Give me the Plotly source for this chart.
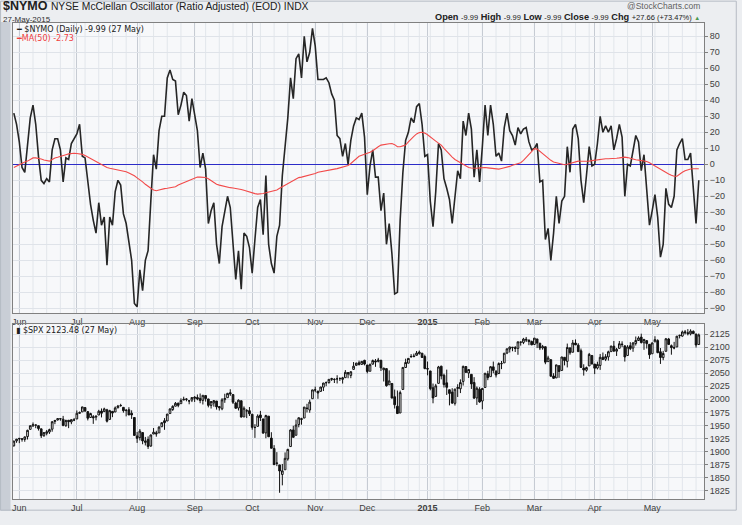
import pandas as pd
import plotly.graph_objects as go

# ---------------- data ----------------
holidays = ["2014-07-04", "2014-09-01", "2014-11-27", "2014-12-25", "2015-01-01",
            "2015-01-19", "2015-02-16", "2015-04-03", "2015-05-25"]
trade_dates = [d for d in pd.bdate_range("2014-05-29", "2015-05-27")
               if d.strftime("%Y-%m-%d") not in holidays]

nymo = [32, 25, 14, -2, -5, 13, 29, 37, 25, 5,
        -10, -12, -9, -11, 9, 16, 16, 9, -11, 4,
        3, 13, 16, 19, 25, 5, 4, -11, -25, -35,
        -43, -24, -38, -33, -63, -33, -38, -17, -10, -13,
        -31, -37, -48, -60, -87, -89, -66, -79, -60, -54,
        -23, 6, -3, 21, 30, 30, 54, 59, 53, 52,
        31, 37, 45, 43, 27, 41, 31, 21, -2, 7,
        -3, -37, -29, -24, -50, -62, -39, -29, -20, -27,
        -52, -72, -54, -78, -43, -45, -52, -68, -47, -27,
        -22, -44, -7, -50, -62, -68, -45, -38, -7, 9,
        29, 54, 41, 66, 69, 54, 80, 64, 70, 85,
        74, 53, 53, 53, 54, 51, 44, 40, 18, 16,
        5, 13, 0, 15, 24, 29, 28, 32, 17, -19,
        -1, 9, -8, -8, -29, -18, -50, -37, -56, -81,
        -80, -35, -5, 15, 20, 29, 26, 36, 38, 25,
        5, 6, -23, -39, -17, 13, 9, -9, -15, -22,
        -37, -20, -4, -9, 27, 18, 32, 22, -8, 9,
        -11, 11, 37, 18, 37, 25, 5, 7, 2, 23,
        32, 21, 18, 12, 23, 19, 22, 23, 14, 9,
        10, 13, -11, -10, -47, -40, -60, -43, -20, -37,
        -23, -20, 11, -5, 22, 25, 16, -10, -24, -7,
        11, -1, 0, 13, 30, 20, 24, 20, 24, 9,
        16, 25, 17, -20, 0, -1, 9, 18, 14, -4,
        6, -18, -38, -29, -19, -33, -58, -50, -15, -25,
        -27, -20, 9, 13, 16, 3, 3, 7, -14, -37,
        -9.99]

ma50 = [-2, -1, 0,
        0.8, 1.5, 2, 3, 4,
        4, 3.8, 3.3, 2.7, 2.3, 2,
        3, 4, 4.4, 4.8, 5.5,
        6, 6.5, 6.8, 6.9, 6.8,
        6.6, 6.2, 5.5, 4.5, 3.8,
        3, 2, 1, 0, -1,
        -2, -2.5, -2.8, -3.1, -3.3,
        -3.6, -4, -4.6, -5.4, -6.2,
        -7.2, -8.5, -9.5, -11, -12.5,
        -14, -15, -16, -16.5, -16,
        -15.5, -15.2, -15, -14.8, -14.6,
        -14, -13, -12.3, -11.5, -10.8,
        -10, -9, -8.5, -8, -8,
        -8, -8.2, -9, -10.3, -11.5,
        -12.5, -13, -13.5, -14, -14.3,
        -14.6, -14.8, -15, -15.2, -15.7,
        -16.2, -16.8, -17.3, -18, -18.3,
        -18.6, -18.5, -18.2, -17.8, -17.4,
        -17, -16.5, -16, -15, -14,
        -13, -12, -11, -9.8, -8.8,
        -8.3, -8, -7.6, -7.2, -6.8,
        -6.3, -5.7, -5, -4.6, -4.3,
        -4, -3.7, -3.4, -3, -2.7,
        -2.3, -1.8, -1.3, -0.7, 0.5,
        2, 3.5, 5, 5.7, 6.2,
        7, 7.6, 8.5, 10, 11,
        12, 12.4, 12.7, 12.8, 13,
        12.3, 11, 11, 11.5, 12,
        14, 16, 17.5, 19, 19.8,
        20, 19.5, 18.5, 17, 15.5,
        14.5, 13.2, 12, 10, 8,
        6.3, 4.5, 3, 2, 0.5,
        -0.5, -1.2, -2, -2.3, -2.6,
        -2.5, -2.2, -2, -2, -2.2,
        -2.4, -2.6, -2.8, -3, -2.6,
        -2.3, -2, -1.3, -0.6, 0,
        0.5, 1, 2.5, 4.5, 6.5,
        8.5, 9.8, 9.5, 8, 7,
        5.5, 4, 2.5, 1.5, 1,
        0.5, 0, -0.3, 0, 0.5,
        1, 1.5, 2, 1.9, 1.8,
        1.7, 2, 2.3, 2.6, 2.9,
        3.1, 3.3, 3.5, 3.5, 3.5,
        3.6, 3.8, 4, 4.3, 4.5,
        4.2, 3.6, 3, 2.8, 2.6,
        2.4, 2.2, 1.8, 1, 0,
        -1.2, -2.5, -3.5, -4.5, -5.2,
        -6, -6.8, -7.5, -7.5, -6,
        -5, -4, -3.3, -2.9, -2.8,
        -2.8, -2.73]

spx_close = [
    1920.0, 1923.6,
    1925.0, 1924.2, 1927.9, 1940.5, 1949.4, 1951.3, 1950.8, 1943.9, 1930.1, 1936.2, 1937.8, 1942.0, 1957.0, 1959.5, 1962.9, 1962.6, 1950.0, 1959.5, 1957.2, 1961.0, 1960.2,
    1973.3, 1974.6, 1985.4, 1977.7, 1963.7, 1972.8, 1964.7, 1967.6, 1977.1, 1973.3, 1981.6, 1958.1, 1978.2, 1973.6, 1983.5, 1987.0, 1988.0, 1978.3, 1978.9, 1970.0, 1970.1, 1930.7,
    1925.2, 1939.0, 1920.2, 1920.2, 1909.6, 1931.6, 1936.9, 1933.8, 1946.7, 1955.2, 1955.1, 1971.7, 1981.6, 1986.5, 1992.4, 1988.4, 1997.9, 2000.0, 2000.1, 1996.7, 2003.4,
    2002.3, 2000.7, 1997.7, 2007.7, 2001.5, 1988.4, 1995.7, 1997.5, 1985.5, 1984.1, 1999.0, 2001.6, 2011.4, 2010.4, 1994.3, 1982.8, 1998.3, 1966.0, 1982.9, 1977.8, 1972.3,
    1946.2, 1946.2, 1967.9, 1964.8, 1935.1, 1968.9, 1928.2, 1906.1, 1874.7, 1877.7, 1862.5, 1862.8, 1886.8, 1904.0, 1941.3, 1927.1, 1950.8, 1964.6, 1961.6, 1985.1, 1982.3, 1994.7, 2018.1,
    2017.8, 2012.1, 2023.6, 2031.2, 2031.9, 2038.3, 2039.7, 2038.3, 2039.3, 2039.8, 2041.3, 2051.8, 2048.7, 2052.8, 2063.5, 2069.4, 2067.0, 2072.8, 2067.6,
    2053.4, 2066.6, 2074.3, 2071.9, 2075.4, 2060.3, 2059.8, 2026.1, 2035.3, 2002.3, 1989.6, 1972.7, 2012.9, 2061.2, 2070.7, 2078.5, 2082.2, 2081.9, 2088.8, 2090.6, 2080.4, 2058.9,
    2058.2, 2020.6, 2002.6, 2025.9, 2062.1, 2044.8, 2028.3, 2023.0, 2011.3, 1992.7, 2019.4, 2022.6, 2032.1, 2063.2, 2051.8, 2057.1, 2029.6, 2002.2, 2021.3, 1995.0,
    2020.9, 2050.0, 2041.5, 2062.5, 2055.5, 2046.7, 2068.6, 2068.5, 2088.5, 2097.0, 2100.3, 2099.7, 2097.5, 2110.3, 2109.7, 2115.5, 2113.9, 2110.7, 2104.5,
    2117.4, 2107.8, 2098.5, 2101.0, 2071.3, 2079.4, 2044.2, 2040.2, 2066.0, 2053.4, 2081.2, 2074.3, 2099.5, 2089.3, 2108.1, 2104.4, 2091.5, 2061.1, 2056.2, 2061.0, 2086.2, 2067.9,
    2059.7, 2067.0, 2080.6, 2076.3, 2081.9, 2091.2, 2102.1, 2092.4, 2095.8, 2106.6, 2105.0, 2081.2, 2100.4, 2097.3, 2108.0, 2112.9, 2117.7, 2108.9, 2114.8, 2106.9, 2085.5,
    2108.3, 2114.5, 2089.5, 2080.2, 2088.0, 2116.1, 2105.3, 2099.1, 2098.5, 2121.1, 2122.7, 2129.2, 2127.8, 2125.9, 2130.8, 2126.1, 2104.2, 2123.48]

spx_open = [
    1910.6, 1920.3,
    1923.9, 1923.1, 1923.1, 1928.5, 1942.4, 1949.0, 1950.3, 1949.4, 1943.4, 1930.8, 1934.8, 1937.2, 1942.7, 1957.5, 1960.5, 1962.9, 1961.9, 1949.3, 1959.9, 1956.6, 1960.8,
    1962.3, 1973.1, 1975.9, 1984.2, 1976.4, 1965.1, 1966.7, 1965.8, 1969.9, 1977.4, 1976.4, 1979.8, 1961.5, 1976.9, 1975.7, 1984.0, 1988.1, 1984.6, 1978.3, 1980.0, 1973.2, 1965.1,
    1929.8, 1926.6, 1936.3, 1917.3, 1923.0, 1910.4, 1933.4, 1935.7, 1935.6, 1947.4, 1958.9, 1958.4, 1972.7, 1980.5, 1986.8, 1992.6, 1991.7, 1998.6, 2000.5, 1997.4, 1998.5,
    2004.1, 2003.6, 2001.7, 1998.0, 2007.2, 2000.7, 1988.4, 1992.9, 1996.7, 1986.0, 1981.9, 1999.3, 2003.1, 2012.7, 2009.1, 1992.8, 1983.3, 1997.3, 1966.2, 1978.0, 1978.2,
    1971.4, 1945.8, 1948.1, 1970.0, 1962.4, 1935.6, 1967.7, 1925.6, 1905.7, 1877.1, 1874.2, 1855.9, 1864.9, 1885.6, 1909.4, 1941.3, 1931.0, 1951.6, 1962.9, 1964.1, 1983.3, 1979.5, 2001.2,
    2018.2, 2015.8, 2015.3, 2023.3, 2032.0, 2032.0, 2038.2, 2037.8, 2039.2, 2039.7, 2038.3, 2041.5, 2051.2, 2045.9, 2057.5, 2065.1, 2070.2, 2067.0, 2074.8,
    2065.8, 2053.8, 2067.5, 2073.6, 2072.8, 2074.8, 2056.6, 2058.9, 2027.9, 2030.4, 2005.0, 1986.7, 1973.8, 2018.9, 2061.0, 2069.3, 2081.5, 2083.3, 2084.3, 2087.6, 2088.5, 2082.1,
    2058.9, 2054.4, 2022.2, 2005.6, 2030.6, 2063.5, 2046.1, 2031.6, 2018.4, 2013.8, 1992.3, 2020.8, 2020.2, 2034.3, 2062.9, 2050.4, 2047.9, 2032.3, 2002.5, 2019.4,
    1996.7, 2022.7, 2048.9, 2043.5, 2062.3, 2053.5, 2049.4, 2068.6, 2069.9, 2088.8, 2096.5, 2099.2, 2099.3, 2097.7, 2109.8, 2109.1, 2115.3, 2113.9, 2110.9,
    2105.2, 2115.8, 2107.7, 2098.5, 2100.9, 2072.3, 2076.1, 2044.7, 2041.1, 2064.6, 2055.4, 2080.6, 2072.8, 2098.7, 2090.3, 2108.0, 2103.9, 2093.1, 2059.9, 2055.8, 2064.1, 2084.1,
    2067.6, 2060.0, 2064.9, 2080.8, 2076.9, 2081.3, 2091.5, 2102.0, 2092.3, 2097.8, 2106.0, 2102.6, 2084.1, 2102.8, 2098.3, 2107.2, 2112.8, 2119.3, 2108.4, 2112.5, 2105.5,
    2087.4, 2110.2, 2112.6, 2091.3, 2080.0, 2092.1, 2115.6, 2102.9, 2099.6, 2100.4, 2122.1, 2121.3, 2129.5, 2127.8, 2125.6, 2130.4, 2125.3, 2105.1]

spx_high = [
    1920.0, 1924.0,
    1925.9, 1925.1, 1928.6, 1941.7, 1949.4, 1955.6, 1950.9, 1949.4, 1943.4, 1937.3, 1941.2, 1943.7, 1957.7, 1959.9, 1963.9, 1963.7, 1968.2, 1960.8, 1959.9, 1961.0, 1964.2,
    1978.6, 1976.7, 1985.6, 1984.2, 1976.4, 1974.2, 1969.8, 1968.7, 1979.9, 1982.5, 1983.9, 1981.8, 1979.9, 1976.9, 1986.2, 1989.2, 1991.4, 1984.6, 1981.5, 1984.9, 1978.9, 1965.1,
    1937.4, 1942.9, 1936.3, 1927.9, 1928.9, 1932.4, 1944.9, 1939.7, 1948.4, 1955.2, 1964.0, 1971.9, 1982.6, 1988.6, 1994.8, 1993.5, 2001.9, 2005.0, 2002.1, 1998.5, 2003.4,
    2006.1, 2009.3, 2011.2, 2007.7, 2007.2, 2001.0, 1996.7, 1997.7, 1996.7, 1987.2, 2002.3, 2010.7, 2012.3, 2019.3, 2009.1, 1995.4, 1999.8, 1997.3, 1986.4, 1981.3, 1985.2,
    1971.4, 1952.3, 1971.2, 1977.8, 1962.4, 1970.4, 1967.7, 1936.9, 1912.1, 1898.7, 1874.2, 1876.0, 1898.2, 1905.0, 1942.5, 1949.3, 1961.0, 1965.3, 1964.6, 1985.1, 1991.4, 1999.4, 2018.2,
    2024.5, 2015.8, 2023.8, 2031.6, 2034.3, 2038.7, 2041.3, 2040.3, 2046.2, 2042.2, 2043.1, 2056.1, 2052.1, 2053.8, 2071.5, 2070.2, 2074.2, 2073.4, 2075.8,
    2065.8, 2068.8, 2076.3, 2077.3, 2079.5, 2075.8, 2060.6, 2058.9, 2055.5, 2030.4, 2018.7, 2016.9, 2016.8, 2061.2, 2077.9, 2078.8, 2086.7, 2087.6, 2092.7, 2093.6, 2088.5, 2085.7,
    2072.4, 2054.4, 2030.3, 2029.6, 2064.1, 2064.4, 2049.3, 2056.9, 2018.4, 2021.4, 2020.5, 2028.9, 2038.3, 2064.6, 2062.9, 2057.6, 2047.9, 2042.5, 2024.6, 2023.3,
    2021.7, 2050.3, 2054.7, 2063.6, 2072.4, 2056.2, 2070.9, 2073.5, 2088.5, 2097.0, 2101.3, 2100.2, 2102.1, 2110.6, 2110.1, 2117.9, 2119.6, 2113.9, 2112.7,
    2117.5, 2115.8, 2107.7, 2104.3, 2100.9, 2083.5, 2076.1, 2050.1, 2066.4, 2064.6, 2081.4, 2080.6, 2106.9, 2098.7, 2113.9, 2114.9, 2107.6, 2097.4, 2067.2, 2062.8, 2089.0, 2084.1,
    2067.6, 2072.2, 2087.0, 2089.8, 2086.7, 2093.3, 2102.6, 2111.9, 2098.6, 2111.9, 2111.3, 2102.6, 2103.9, 2109.6, 2110.0, 2120.5, 2120.9, 2125.9, 2116.0, 2113.7, 2105.5,
    2108.4, 2121.0, 2115.2, 2098.4, 2092.9, 2117.7, 2117.7, 2105.1, 2110.2, 2121.5, 2123.9, 2131.8, 2133.0, 2134.7, 2134.3, 2132.2, 2125.3, 2126.2]

spx_low = [
    1909.8, 1916.6,
    1915.9, 1918.8, 1918.6, 1922.9, 1942.4, 1947.2, 1944.6, 1940.1, 1925.8, 1927.7, 1930.9, 1933.6, 1937.9, 1952.3, 1959.2, 1958.9, 1948.3, 1947.5, 1944.7, 1952.2, 1958.2,
    1962.3, 1972.6, 1975.9, 1975.9, 1959.5, 1965.1, 1952.9, 1959.6, 1969.9, 1965.3, 1975.7, 1955.6, 1960.8, 1965.8, 1975.7, 1982.4, 1985.8, 1974.4, 1967.3, 1969.9, 1962.4, 1930.7,
    1916.4, 1921.2, 1913.8, 1911.5, 1904.8, 1909.0, 1933.4, 1928.3, 1935.6, 1947.4, 1941.5, 1958.4, 1972.7, 1977.7, 1986.8, 1984.8, 1991.7, 1998.6, 1996.2, 1990.5, 1994.7,
    1994.9, 1998.2, 1992.5, 1990.1, 1995.6, 1984.6, 1982.3, 1985.9, 1980.3, 1978.5, 1979.1, 1993.3, 2003.1, 2006.6, 1991.0, 1982.4, 1978.6, 1965.1, 1966.2, 1964.0, 1968.0,
    1941.7, 1926.0, 1948.1, 1958.4, 1935.1, 1925.3, 1927.6, 1906.1, 1874.1, 1871.8, 1820.7, 1835.0, 1864.9, 1882.3, 1909.4, 1926.8, 1931.0, 1946.3, 1951.4, 1964.1, 1974.8, 1974.2, 2001.2,
    2013.7, 2001.0, 2014.4, 2015.9, 2025.1, 2030.2, 2035.3, 2031.3, 2030.4, 2035.2, 2030.2, 2041.5, 2040.4, 2040.5, 2056.8, 2065.1, 2064.8, 2066.9, 2065.1,
    2049.6, 2053.8, 2066.7, 2062.3, 2070.8, 2054.3, 2034.2, 2024.3, 2027.9, 2002.3, 1982.3, 1972.6, 1973.8, 2018.9, 2061.0, 2069.3, 2079.8, 2081.9, 2084.3, 2085.8, 2079.5, 2057.9,
    2046.0, 2017.3, 1992.4, 2005.6, 2030.6, 2038.3, 2022.6, 2008.3, 1988.4, 1991.5, 1988.1, 2004.5, 2012.0, 2026.4, 2050.5, 2040.9, 2019.9, 2001.5, 1989.2, 1993.4,
    1980.9, 2022.7, 2036.7, 2043.5, 2049.9, 2041.9, 2048.6, 2057.9, 2069.9, 2086.7, 2089.8, 2092.2, 2090.8, 2085.4, 2103.0, 2105.9, 2109.9, 2103.8, 2103.8,
    2104.5, 2098.3, 2094.5, 2095.2, 2067.3, 2072.2, 2044.2, 2039.7, 2041.1, 2041.2, 2055.4, 2065.1, 2061.2, 2085.6, 2090.3, 2104.4, 2091.5, 2061.1, 2045.5, 2053.0, 2064.1, 2067.0,
    2048.4, 2057.3, 2056.5, 2076.1, 2073.3, 2074.3, 2091.5, 2091.9, 2083.2, 2097.8, 2100.0, 2072.4, 2084.1, 2094.4, 2091.1, 2103.2, 2112.8, 2107.0, 2094.9, 2097.4, 2077.6,
    2087.4, 2110.2, 2088.5, 2067.9, 2075.0, 2092.1, 2104.6, 2085.6, 2096.0, 2100.4, 2116.8, 2120.0, 2124.5, 2122.6, 2122.6, 2126.1, 2099.2, 2105.1]

nymo_ticks = list(range(-90, 81, 10))
spx_ticks = list(range(1825, 2126, 25))

# ---------------- figure ----------------
n = len(trade_dates)
xi = list(range(n))
month_idx = [i for i in range(1, n) if trade_dates[i].month != trade_dates[i - 1].month]
month_txt = ["<b>2015</b>" if trade_dates[i].month == 1 else trade_dates[i].strftime("%b")
             for i in month_idx]
week_idx = [i for i in range(1, n) if trade_dates[i].weekday() < trade_dates[i - 1].weekday()]

W, H = 742, 525
ML, MR, MT, MB = 13, 33, 23, 12
PW, PH = W - ML - MR, H - MT - MB


def px(x):
    return (x - ML) / PW


def py(y):
    return (H - MB - y) / PH


fig = go.Figure()
fig.add_trace(go.Scatter(x=xi[:len(nymo)], y=nymo, mode="lines",
                         line=dict(color="#262626", width=1.6), xaxis="x", yaxis="y",
                         hoverinfo="skip"))
fig.add_trace(go.Scatter(x=xi[:len(ma50)], y=ma50, mode="lines",
                         line=dict(color="#f24a4a", width=1.1), xaxis="x", yaxis="y",
                         hoverinfo="skip"))
fig.add_trace(go.Candlestick(x=xi[:len(spx_close)], open=spx_open, high=spx_high, low=spx_low,
                             close=spx_close, xaxis="x2", yaxis="y2", whiskerwidth=0,
                             increasing=dict(line=dict(color="#111111", width=1), fillcolor="#ffffff"),
                             decreasing=dict(line=dict(color="#111111", width=1), fillcolor="#111111"),
                             hoverinfo="skip"))

top_dom = [py(322), 1.0]
bot_dom = [0.0, py(333)]
xr = [-0.3, 251.9]
tickfont = dict(family="Liberation Sans, Arial, sans-serif", size=9, color="#404040")

xcommon = dict(range=xr, tickmode="array", tickvals=month_idx, ticktext=month_txt,
               showgrid=True, gridcolor="#c6cbd3", gridwidth=1, zeroline=False,
               showline=True, mirror=True, linecolor="#808080", linewidth=1,
               ticks="", tickfont=tickfont, fixedrange=True)
fig.update_layout(
    xaxis=dict(domain=[0, 1], anchor="y", **xcommon),
    xaxis2=dict(domain=[0, 1], anchor="y2", rangeslider=dict(visible=False), **xcommon),
    yaxis=dict(domain=top_dom, anchor="x", range=[-93.2, 88.3], side="right",
               tickmode="array", tickvals=nymo_ticks, showgrid=True, gridcolor="#dfe3e9",
               zeroline=True, zerolinecolor="#2c2cc8", zerolinewidth=1.3,
               showline=True, mirror=True, linecolor="#808080", ticks="outside",
               ticklen=3, tickcolor="#808080", tickfont=tickfont, fixedrange=True),
    yaxis2=dict(domain=bot_dom, anchor="x2", range=[1808.8, 2144.2], side="right",
                tickmode="array", tickvals=spx_ticks, showgrid=True, gridcolor="#dfe3e9",
                zeroline=False, showline=True, mirror=True, linecolor="#808080",
                ticks="outside", ticklen=3, tickcolor="#808080", tickfont=tickfont,
                fixedrange=True),
    width=W, height=H, margin=dict(l=ML, r=MR, t=MT, b=MB),
    paper_bgcolor="#eceef1", plot_bgcolor="#f7f8fa", showlegend=False,
    boxgap=0.12, hovermode=False,
)

shapes = []
# outer frame: grey strip on the left and a thin grey border round the page
shapes.append(dict(type="rect", xref="paper", yref="paper", x0=px(0), x1=px(10.5),
                   y0=py(H), y1=py(22), fillcolor="#c9ced6", line=dict(width=0), layer="below"))
shapes.append(dict(type="rect", xref="paper", yref="paper", x0=px(0.5), x1=px(W - 0.5),
                   y0=py(H - 0.5), y1=py(0.5), fillcolor="rgba(0,0,0,0)",
                   line=dict(color="#b5bbc4", width=1), layer="below"))
for w in week_idx:
    for xa, ya in (("x", "y domain"), ("x2", "y2 domain")):
        shapes.append(dict(type="line", xref=xa, yref=ya, x0=w, x1=w, y0=0, y1=1,
                           line=dict(color="#e2e6eb", width=1), layer="below"))
fig.update_layout(shapes=shapes)

ann = []
ann.append(dict(x=px(2), y=py(14), xref="paper", yref="paper", xanchor="left", yanchor="bottom",
                showarrow=False, borderpad=0,
                text="<b>$NYMO</b> <span style='font-size:10.3px'>NYSE McClellan Oscillator (Ratio Adjusted) (EOD) INDX</span>",
                font=dict(family="Liberation Sans, Arial, sans-serif", size=12.5, color="#202020")))
ann.append(dict(x=px(2), y=py(14), xref="paper", yref="paper", xanchor="left", yanchor="top",
                showarrow=False, borderpad=0, text="27-May-2015",
                font=dict(family="Liberation Sans, Arial, sans-serif", size=8, color="#303030")))
ann.append(dict(x=px(706), y=py(6), xref="paper", yref="paper", xanchor="right", yanchor="middle",
                showarrow=False, borderpad=0, text="@StockCharts.com",
                font=dict(family="Liberation Sans, Arial, sans-serif", size=8.5, color="#606060")))
ann.append(dict(x=px(706), y=py(16.5), xref="paper", yref="paper", xanchor="right", yanchor="middle",
                showarrow=False, borderpad=0,
                text=("<b>Open</b> <span style='font-size:7.5px'>-9.99</span> <b>High</b> <span style='font-size:7.5px'>-9.99</span> "
                      "<b>Low</b> <span style='font-size:7.5px'>-9.99</span> <b>Close</b> <span style='font-size:7.5px'>-9.99</span> "
                      "<b>Chg</b> <span style='font-size:7.5px'>+27.66 (+73.47%)</span> <span style='font-size:6px;color:#4a9a4a'>▲</span>"),
                font=dict(family="Liberation Sans, Arial, sans-serif", size=9.2, color="#202020")))
ann.append(dict(x=px(15), y=py(30), xref="paper", yref="paper", xanchor="left", yanchor="middle",
                showarrow=False, borderpad=0,
                text="<span style='color:#1e1e1e'><b>━</b></span> $NYMO (Daily) -9.99 (27 May)",
                font=dict(family="DejaVu Sans, sans-serif", size=8, color="#202020")))
ann.append(dict(x=px(15), y=py(39), xref="paper", yref="paper", xanchor="left", yanchor="middle",
                showarrow=False, borderpad=0,
                text="<b>━</b>MA(50) -2.73",
                font=dict(family="DejaVu Sans, sans-serif", size=8, color="#f03c3c")))
ann.append(dict(x=px(15), y=py(340), xref="paper", yref="paper", xanchor="left", yanchor="middle",
                showarrow=False, borderpad=0,
                text="<b>▮</b> $SPX 2123.48 (27 May)",
                font=dict(family="DejaVu Sans, sans-serif", size=8, color="#202020")))
fig.update_layout(annotations=ann)

fig.write_html("out.html", config={"displayModeBar": False, "staticPlot": True})
with open("out.html", "r", encoding="utf-8") as f:
    page = f.read()
page = page.replace("<body>", "<body style=\"margin:0;padding:0;overflow:hidden\">", 1)
page = page.replace("<head>", "<head><style>html,body{margin:0;padding:0;}</style>", 1)
with open("out.html", "w", encoding="utf-8") as f:
    f.write(page)
